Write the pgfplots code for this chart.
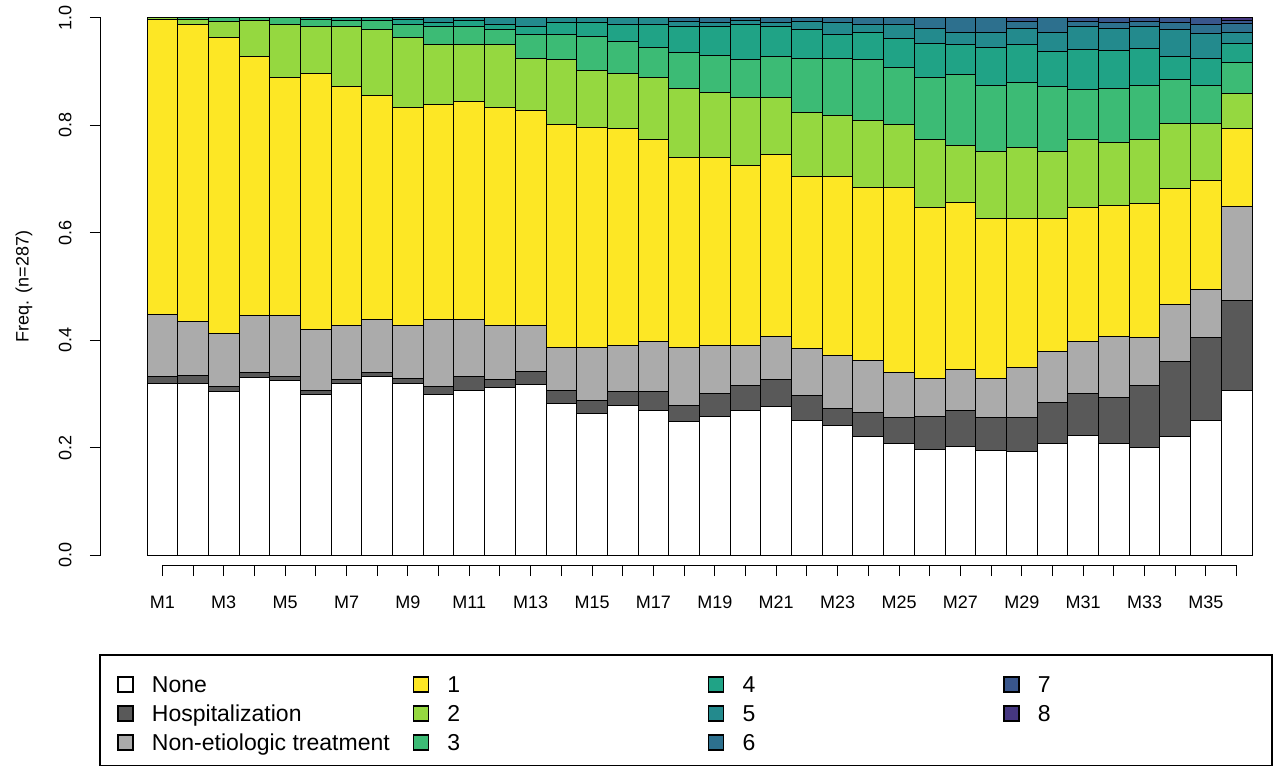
\documentclass[border=0pt]{standalone}
\usepackage{pgfplots}
\pgfplotsset{compat=1.18}
\usepackage{pgfplotstable}
\usepackage{fontspec}
\setmainfont{Liberation Sans}

\definecolor{hosp}{HTML}{595959}
\definecolor{nonet}{HTML}{ABABAB}
\definecolor{s1}{HTML}{FDE725}
\definecolor{s2}{HTML}{95D840}
\definecolor{s3}{HTML}{3CBB75}
\definecolor{s4}{HTML}{20A386}
\definecolor{s5}{HTML}{238A8D}
\definecolor{s6}{HTML}{2D708E}
\definecolor{s7}{HTML}{39568C}
\definecolor{s8}{HTML}{453781}

% share of each state per month (n=287)
\pgfplotstableread{
x  N    H    E    a    b    c    d    e    f    g    h
1  .320 .012 .116 .550 .002 0    0    0    0    0    0
2  .320 .015 .099 .554 .009 .003 0    0    0    0    0
3  .305 .008 .100 .551 .030 .006 0    0    0    0    0
4  .331 .009 .106 .483 .066 .005 0    0    0    0    0
5  .325 .007 .114 .444 .098 .012 0    0    0    0    0
6  .299 .008 .113 .477 .088 .012 .003 0    0    0    0
7  .320 .007 .100 .446 .112 .010 .005 0    0    0    0
8  .333 .007 .099 .416 .123 .017 .005 0    0    0    0
9  .320 .008 .099 .407 .129 .024 .010 .003 0    0    0
10 .299 .014 .126 .399 .112 .035 .007 .008 0    0    0
11 .307 .025 .107 .406 .105 .035 .010 .005 0    0    0
12 .311 .016 .100 .407 .116 .028 .009 .013 0    0    0
13 .317 .025 .086 .399 .097 .046 .015 .015 0    0    0
14 .283 .024 .079 .415 .121 .048 .021 .009 0    0    0
15 .263 .024 .099 .410 .107 .063 .026 .008 0    0    0
16 .278 .027 .086 .404 .102 .060 .030 .013 0    0    0
17 .269 .036 .092 .376 .117 .055 .042 .013 0    0    0
18 .248 .031 .107 .355 .127 .068 .049 .008 .007 0    0
19 .258 .042 .091 .350 .121 .068 .054 .008 .008 0    0
20 .269 .046 .076 .334 .127 .070 .065 .008 .005 0    0
21 .276 .050 .081 .338 .107 .077 .055 .008 .008 0    0
22 .250 .047 .087 .320 .120 .100 .054 .015 .007 0    0
23 .241 .031 .100 .332 .114 .106 .046 .021 .009 0    0
24 .220 .045 .098 .322 .125 .112 .051 .014 .013 0    0
25 .207 .049 .084 .345 .116 .107 .054 .025 .013 0    0
26 .196 .062 .070 .320 .125 .117 .062 .028 .020 0    0
27 .202 .068 .076 .311 .105 .132 .056 .023 .027 0    0
28 .194 .062 .072 .299 .125 .123 .070 .028 .027 0    0
29 .192 .064 .093 .278 .132 .121 .070 .030 .013 .007 0
30 .207 .077 .095 .248 .124 .121 .065 .036 .027 0    0
31 .223 .077 .097 .250 .126 .093 .076 .042 .009 .007 0
32 .207 .086 .114 .243 .119 .099 .071 .041 .011 .009 0
33 .200 .115 .090 .250 .118 .102 .068 .042 .008 .007 0
34 .220 .141 .106 .215 .121 .083 .043 .049 .013 .009 0
35 .251 .154 .090 .203 .105 .072 .049 .047 .016 .013 0
36 .307 .167 .175 .146 .065 .057 .036 .020 .017 .005 .005
}\months

\begin{document}
\begin{tikzpicture}
\begin{axis}[
    scale only axis,
    width=552.5pt, height=268.5pt,
    xmin=0.5, xmax=36.5, ymin=0, ymax=1,
    ybar stacked, bar width=1,
    axis x line*=bottom, axis y line*=left,
    axis x line shift=5pt, axis y line shift=23pt,
    x axis line style={draw=none},
    y axis line style={-, line width=0.5pt},
    tick align=outside, major tick length=5.5pt,
    tick style={black, line width=0.5pt},
    xtick={1,...,36},
    xticklabels={M1,,M3,,M5,,M7,,M9,,M11,,M13,,M15,,M17,,M19,,M21,,M23,,M25,,M27,,M29,,M31,,M33,,M35,},
    xticklabel style={font=\fontsize{9}{10}\selectfont, inner sep=0pt, yshift=-10pt},
    ytick={0,0.2,0.4,0.6,0.8,1},
    yticklabels={0.0,0.2,0.4,0.6,0.8,1.0},
    yticklabel style={font=\fontsize{9}{10}\selectfont, xshift=-9pt, rotate=90, anchor=south, inner sep=0pt},
    ylabel={Freq. (n=287)},
    ylabel style={at={([xshift=-61.5pt]axis description cs:0,0.5)}, anchor=center, font=\fontsize{9}{10}\selectfont, inner sep=0pt},
    every axis plot/.append style={draw=black, line width=0.5pt},
    legend image code/.code={
        \draw[#1, draw=black, line width=0.6pt] (0pt,-3.75pt) rectangle (7.5pt,3.75pt);
        \path[draw=none, fill=none] (0pt,0pt) -- (17pt,0pt);},
    legend style={draw=none, fill=none, at={(0,0)}, anchor=north west,
        xshift=-15pt, yshift=-57.25pt, inner sep=0pt, column sep=0pt, row sep=0pt,
        font=\fontsize{11.5}{13}\selectfont,
        nodes={inner sep=0pt, anchor=west, text height=11.3pt, text depth=3.2pt}},
    legend cell align=left,
    transpose legend, legend columns=3,
    clip=false,
]
\addplot[fill=white] table[x=x, y=N] {\months};
\addlegendentry{\makebox[130.35pt][l]{None}}
\addplot[fill=hosp] table[x=x, y=H] {\months};
\addlegendentry{\makebox[130.35pt][l]{Hospitalization}}
\addplot[fill=nonet] table[x=x, y=E] {\months};
\addlegendentry{\makebox[130.35pt][l]{Non-etiologic treatment}}
\addplot[fill=s1] table[x=x, y=a] {\months};
\addlegendentry{\makebox[130.35pt][l]{1}}
\addplot[fill=s2] table[x=x, y=b] {\months};
\addlegendentry{\makebox[130.35pt][l]{2}}
\addplot[fill=s3] table[x=x, y=c] {\months};
\addlegendentry{\makebox[130.35pt][l]{3}}
\addplot[fill=s4] table[x=x, y=d] {\months};
\addlegendentry{\makebox[130.35pt][l]{4}}
\addplot[fill=s5] table[x=x, y=e] {\months};
\addlegendentry{\makebox[130.35pt][l]{5}}
\addplot[fill=s6] table[x=x, y=f] {\months};
\addlegendentry{\makebox[130.35pt][l]{6}}
\addplot[fill=s7] table[x=x, y=g] {\months};
\addlegendentry{7}
\addplot[fill=s8] table[x=x, y=h] {\months};
\addlegendentry{8}
\addlegendimage{empty legend}
\addlegendentry{}
\coordinate (SW) at (rel axis cs:0,0);
\coordinate (NE) at (rel axis cs:1,1);
\coordinate (XA) at (axis cs:1,0);
\coordinate (XB) at (axis cs:36,0);
\end{axis}
\draw[line width=0.5pt] ([yshift=-5pt]XA) -- ([yshift=-5pt]XB);
\draw[line width=0.6pt] ([xshift=-23.5pt,yshift=-50pt]SW) rectangle ([xshift=562.5pt,yshift=-105.2pt]SW);
\pgfresetboundingbox
\path ([xshift=-73.5pt,yshift=-105.5pt]SW) rectangle ([xshift=12.5pt,yshift=9pt]NE);
\end{tikzpicture}
\end{document}
